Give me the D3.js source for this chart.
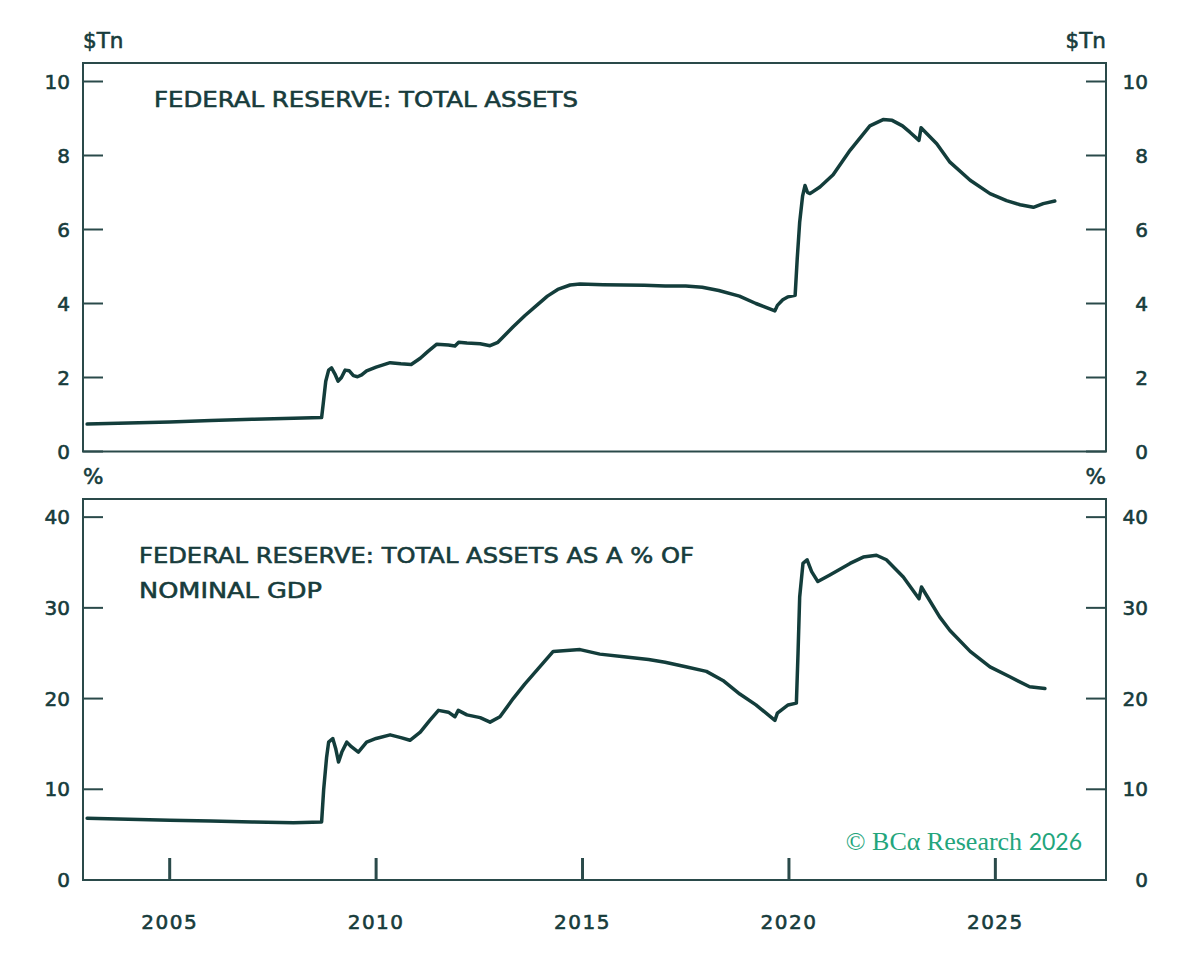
<!DOCTYPE html>
<html>
<head>
<meta charset="utf-8">
<script src="https://cdn.jsdelivr.net/npm/d3@7"></script>
<style>
html,body{margin:0;padding:0;background:#fff;}
svg{display:block;font-family:'DejaVu Sans',sans-serif;}
</style>
</head>
<body>
<svg id="chart" width="1200" height="979"></svg>
<script>
// ---- data (decimal year, value) ----
const totalAssets = [
[2003.0,0.74],[2004.0,0.77],[2005.0,0.80],[2006.0,0.84],[2007.0,0.87],[2008.0,0.90],[2008.68,0.92],
[2008.72,1.3],[2008.78,1.9],[2008.85,2.2],[2008.92,2.26],[2009.0,2.1],[2009.08,1.90],[2009.16,2.0],
[2009.25,2.2],[2009.35,2.18],[2009.45,2.05],[2009.55,2.02],[2009.65,2.07],[2009.77,2.18],[2010.0,2.28],
[2010.34,2.40],[2010.6,2.37],[2010.85,2.35],[2011.07,2.52],[2011.25,2.70],[2011.47,2.90],[2011.75,2.88],
[2011.91,2.85],[2012.0,2.95],[2012.2,2.93],[2012.52,2.91],[2012.76,2.86],[2012.95,2.95],[2013.1,3.12],
[2013.32,3.37],[2013.6,3.67],[2013.89,3.95],[2014.15,4.2],[2014.4,4.38],[2014.7,4.5],[2014.94,4.53],
[2015.5,4.51],[2016.0,4.50],[2016.5,4.49],[2017.0,4.47],[2017.5,4.47],[2017.9,4.44],[2018.3,4.35],
[2018.8,4.2],[2019.2,4.0],[2019.66,3.80],[2019.72,3.95],[2019.85,4.1],[2019.98,4.18],[2020.15,4.22],
[2020.2,5.2],[2020.26,6.2],[2020.33,6.9],[2020.39,7.19],[2020.45,7.0],[2020.51,6.97],[2020.75,7.15],
[2021.07,7.48],[2021.48,8.14],[2021.96,8.8],[2022.28,8.97],[2022.5,8.95],[2022.75,8.8],[2022.93,8.63],
[2023.15,8.41],[2023.2,8.75],[2023.58,8.32],[2023.9,7.82],[2024.39,7.33],[2024.87,6.97],[2025.27,6.78],
[2025.6,6.67],[2025.92,6.60],[2026.16,6.70],[2026.44,6.77]
];
const assetsPctGdp = [
[2003.0,6.8],[2004.0,6.7],[2005.0,6.6],[2006.0,6.5],[2007.0,6.4],[2008.0,6.3],[2008.68,6.4],
[2008.73,10],[2008.8,13.5],[2008.85,15.2],[2008.95,15.6],[2009.02,14.5],[2009.09,13.0],[2009.17,14.1],
[2009.29,15.2],[2009.4,14.7],[2009.57,14.1],[2009.77,15.2],[2010.0,15.6],[2010.34,16.0],[2010.6,15.7],
[2010.82,15.4],[2011.07,16.3],[2011.3,17.6],[2011.51,18.7],[2011.75,18.5],[2011.91,18.0],[2011.99,18.7],
[2012.2,18.2],[2012.52,17.9],[2012.76,17.4],[2013.0,18.0],[2013.32,20.0],[2013.6,21.6],[2013.89,23.1],
[2014.29,25.2],[2014.94,25.4],[2015.42,24.9],[2016.0,24.6],[2016.6,24.3],[2017.0,24.0],[2017.5,23.5],
[2018.0,23.0],[2018.4,22.0],[2018.81,20.5],[2019.2,19.3],[2019.66,17.6],[2019.72,18.4],[2019.98,19.3],
[2020.18,19.5],[2020.22,25],[2020.26,31.2],[2020.34,34.9],[2020.44,35.3],[2020.55,34],[2020.7,32.9],
[2020.98,33.6],[2021.48,34.9],[2021.8,35.6],[2022.12,35.8],[2022.36,35.3],[2022.77,33.4],[2023.15,31.0],
[2023.21,32.3],[2023.65,29.0],[2023.9,27.5],[2024.39,25.2],[2024.87,23.5],[2025.35,22.4],[2025.83,21.3],
[2026.2,21.1]
];
const xTicks = [2005, 2010, 2015, 2020, 2025];
const topTicks = [0, 2, 4, 6, 8, 10];
const bottomTicks = [0, 10, 20, 30, 40];
const topTitle = ["FEDERAL RESERVE: TOTAL ASSETS"];
const bottomTitle = ["FEDERAL RESERVE: TOTAL ASSETS AS A % OF", "NOMINAL GDP"];
const topUnit = "$Tn", bottomUnit = "%";

// ---- layout ----
const TEXT = "#173c3c", LINE = "#133d3b", AXIS = "#2a4a4a";
const svg = d3.select("#chart");
const L = 83, R = 1106;
const x = d3.scaleLinear().domain([2002.9, 2027.68]).range([L, R]);

const txt = (sel, size) => sel.attr("fill", TEXT).attr("stroke", TEXT).attr("stroke-width", 0.6)
  .attr("font-size", size);

function panel(top, bottom, domain, ticks, data, unit, title, titleX, titleY, titleLens, xAxis) {
  const y = d3.scaleLinear().domain(domain).range([bottom, top]);
  const g = svg.append("g");
  g.selectAll(".tl").data(ticks).join("line")
    .attr("x1", L).attr("x2", L + 20).attr("y1", d => y(d)).attr("y2", d => y(d))
    .attr("stroke", AXIS).attr("stroke-width", 2);
  g.selectAll(".tr").data(ticks).join("line")
    .attr("x1", R - 20).attr("x2", R).attr("y1", d => y(d)).attr("y2", d => y(d))
    .attr("stroke", AXIS).attr("stroke-width", 2);
  g.selectAll(".ll").data(ticks).join("text")
    .attr("x", 70).attr("y", d => y(d)).attr("dy", "0.36em").attr("text-anchor", "end")
    .call(txt, 20).text(d => d);
  g.selectAll(".lr").data(ticks).join("text")
    .attr("x", 1148).attr("y", d => y(d)).attr("dy", "0.36em").attr("text-anchor", "end")
    .call(txt, 20).text(d => d);
  if (xAxis) {
    g.selectAll(".xt").data(xTicks).join("line")
      .attr("x1", d => x(d)).attr("x2", d => x(d)).attr("y1", bottom).attr("y2", bottom - 22)
      .attr("stroke", AXIS).attr("stroke-width", 3);
    g.selectAll(".xl").data(xTicks).join("text")
      .attr("x", d => x(d)).attr("y", 929).attr("text-anchor", "middle")
      .call(txt, 20).attr("letter-spacing", 1.5).text(d => d);
  }
  g.append("rect").attr("x", L).attr("y", top).attr("width", R - L).attr("height", bottom - top)
    .attr("fill", "none").attr("stroke", AXIS).attr("stroke-width", 2);
  g.append("text").attr("x", L).attr("y", top - 15).call(txt, 21.5).text(unit);
  g.append("text").attr("x", R).attr("y", top - 15).attr("text-anchor", "end").call(txt, 21.5).text(unit);
  title.forEach((t, i) => g.append("text").attr("x", titleX).attr("y", titleY + i * 35.5)
    .call(txt, 22).attr("textLength", titleLens[i]).attr("lengthAdjust", "spacingAndGlyphs").text(t));
  const line = d3.line().x(d => x(d[0])).y(d => y(d[1]));
  g.append("path").datum(data).attr("d", line).attr("fill", "none")
    .attr("stroke", LINE).attr("stroke-width", 3.5).attr("stroke-linejoin", "round").attr("stroke-linecap", "round");
  return y;
}

panel(63, 451.5, [0, 10.5], topTicks, totalAssets, topUnit, topTitle, 154, 107, [424], false);
panel(499, 880, [0, 42], bottomTicks, assetsPctGdp, bottomUnit, bottomTitle, 139, 562.5, [555, 183], true);

const cr = svg.append("text").attr("x", 1082).attr("y", 850).attr("text-anchor", "end")
  .attr("fill", "#23a57c").attr("font-size", 26).attr("font-family", "'Liberation Serif','DejaVu Serif',serif");
cr.append("tspan").text("© BCα Research ");
cr.append("tspan").attr("font-family", "Lato,sans-serif").attr("font-size", 23).text("2026");
</script>
</body>
</html>
